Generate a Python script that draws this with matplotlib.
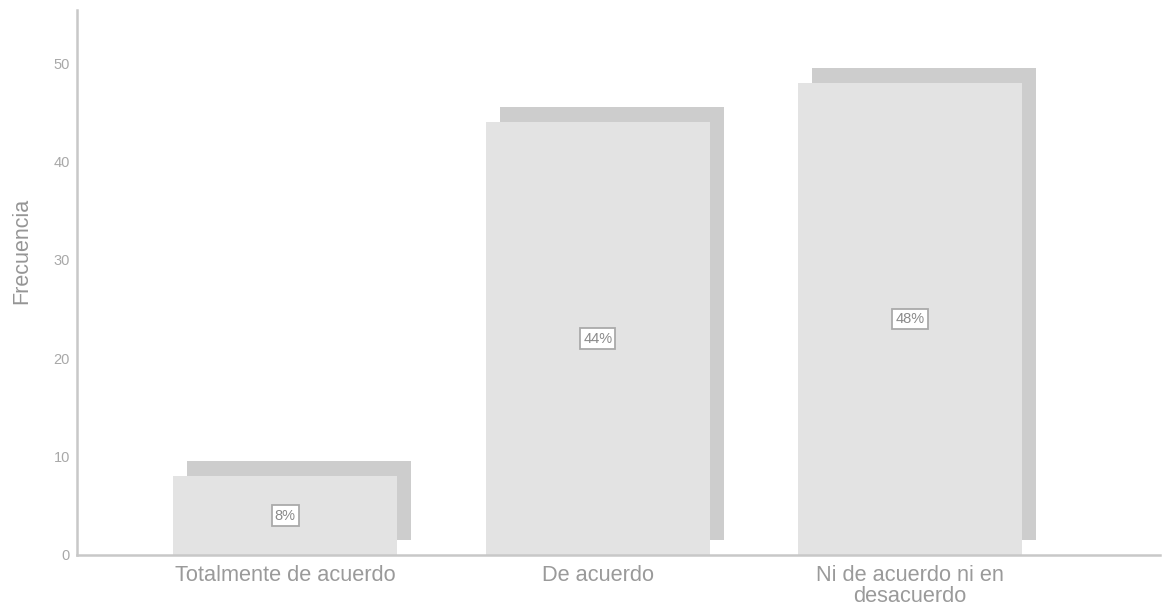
import matplotlib
matplotlib.use("Agg")
import matplotlib.pyplot as plt
from matplotlib.transforms import ScaledTranslation

categories = ["Totalmente de acuerdo", "De acuerdo", "Ni de acuerdo ni en\ndesacuerdo"]
frequencies = [8, 44, 48]
percent_labels = ["8%", "44%", "48%"]
yticks = [0, 10, 20, 30, 40, 50]

plt.rcParams['font.family'] = ['Liberation Sans', 'DejaVu Sans']

fig = plt.figure(figsize=(11.64, 6.13), dpi=100)
ax = fig.add_axes([77/1164, 58/613, (1160-77)/1164, (555-10)/613])

x = list(range(len(categories)))
width = 0.718
shadow_off = ScaledTranslation(14/100, 15/100, fig.dpi_scale_trans)
sh = ax.bar(x, frequencies, width=width, color="#cdcdcd", zorder=1)
for p in sh:
    p.set_transform(ax.transData + shadow_off)
ax.bar(x, frequencies, width=width, color="#e3e3e3", zorder=2)

for xi, v, lab in zip(x, frequencies, percent_labels):
    ax.text(xi, v / 2, lab, ha="center", va="center", fontsize=10.5, color="#8a8a8a",
            zorder=3,
            bbox=dict(boxstyle="square,pad=0.22", facecolor="white", edgecolor="#aaaaaa", linewidth=1.3))

ax.set_xlim(-0.667, 2.80)
ax.set_ylim(0, 55.4)
ax.set_yticks(yticks)
ax.set_xticks(x)
ax.set_xticklabels(categories, fontsize=15.7, color="#9a9a9a", linespacing=1.0)
ax.tick_params(axis="y", labelsize=10.5, labelcolor="#a8a8a8", length=0, pad=5)
ax.tick_params(axis="x", length=0, pad=7)
ax.set_ylabel("Frecuencia", fontsize=15.5, color="#959595")
ax.yaxis.set_label_coords(-0.0415, 0.558)

for s in ["top", "right"]:
    ax.spines[s].set_visible(False)
for s in ["left", "bottom"]:
    ax.spines[s].set_color("#c8c8c8")
    ax.spines[s].set_linewidth(1.8)

fig.savefig("out.png", dpi=100, facecolor="white")
